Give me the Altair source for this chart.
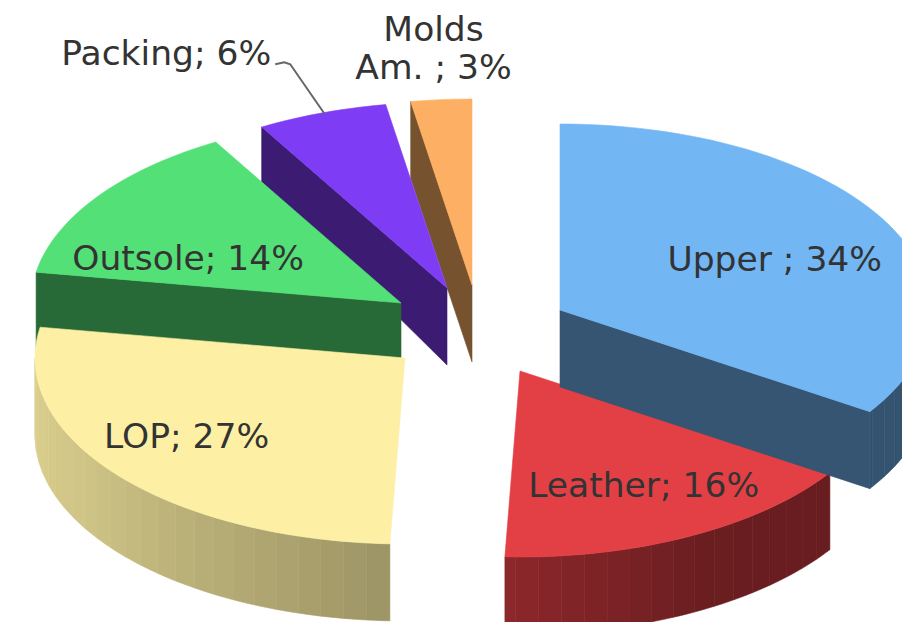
import math
import altair as alt

# Data
NAMES = ["Upper ", "Leather", "LOP", "Outsole", "Packing", "Molds\nAm. "]
SHARES = [34.2, 16.45, 27.0, 14.0, 5.7, 2.65]
COLORS = ["#72b6f4", "#e34046", "#fdf0a4", "#53e077", "#7e3cf4", "#fdb063"]

# Layout of the exploded, tilted pie (page pixels)
APEX = [(560, 310), (520, 371), (405, 358), (401, 303), (447, 288), (472, 285)]
LABEL_FRAC = [(0.66, 0.55), (0.73, 0.70), (0.76, 0.68), (0.70, 0.41), (2.24, 1.33), (1.25, 1.37)]
FAR_DEPTH = [55, 55, 55, 55, 55, 77]
RX, RY = 370, 186
MARGIN = 8
CUT_SHADE = 0.47
WALL_STOPS = [(90, 0.45), (150, 0.47), (182, 0.62), (240, 0.82), (270, 0.87)]


def wall_shade(deg):
    for (t0, f0), (t1, f1) in zip(WALL_STOPS, WALL_STOPS[1:]):
        if deg <= t1:
            return f0 + (f1 - f0) * (deg - t0) / (t1 - t0)
    return WALL_STOPS[-1][1]


def shade(hex_color, f):
    r, g, b = (int(hex_color[i:i + 2], 16) for i in (1, 3, 5))
    return "#%02x%02x%02x" % (int(r * f), int(g * f), int(b * f))


def rim(c, deg):
    t = math.radians(deg)
    return (c[0] + RX * math.sin(t) - MARGIN, c[1] - RY * math.cos(t) - MARGIN)


def down(p, far):
    return (p[0], p[1] + min(77, far + max(0, (p[1] + MARGIN - 128)) * 0.142))


def poly(points, fill):
    ring = [list(p) for p in points] + [list(points[0])]
    return {
        "type": "Feature",
        "properties": {"fill": fill},
        "geometry": {"type": "Polygon", "coordinates": [ring]},
    }


spans = []
acc = 0.0
for s in SHARES:
    spans.append((acc * 3.6, (acc + s) * 3.6))
    acc += s

features = []
for i in [5, 4, 3, 2, 1, 0]:
    a, b = spans[i]
    far = FAR_DEPTH[i]
    apex = (APEX[i][0] - MARGIN, APEX[i][1] - MARGIN)
    col = COLORS[i]
    # outer wall, in narrow shaded bands
    lo, hi = max(a, 90), min(b, 270)
    t = lo
    while t < hi:
        t2 = min(t + 3.6, hi)
        f = wall_shade((t + t2) / 2)
        top = [rim(APEX[i], t + k * (t2 - t) / 3) for k in range(4)]
        features.append(poly(top + [down(p, far) for p in reversed(top)], shade(col, f)))
        t = t2
    # cut faces that look toward the viewer
    if math.sin(math.radians(b)) > 0.1:
        r = rim(APEX[i], b)
        features.append(poly([apex, r, down(r, far), down(apex, far)], shade(col, CUT_SHADE)))
    if math.sin(math.radians(a)) < -0.1:
        r = rim(APEX[i], a)
        features.append(poly([apex, r, down(r, far), (apex[0], apex[1] + 77)], shade(col, CUT_SHADE)))
    # top surface
    n = max(3, int((b - a) / 2))
    arc = [rim(APEX[i], a + k * (b - a) / n) for k in range(n + 1)]
    features.append(poly([apex] + arc, col))

labels = []
for i, (nm, s) in enumerate(zip(NAMES, SHARES)):
    a, b = spans[i]
    m = math.radians((a + b) / 2)
    fx, fy = LABEL_FRAC[i]
    labels.append({
        "lon": APEX[i][0] + RX * math.sin(m) * fx - MARGIN,
        "lat": APEX[i][1] - RY * math.cos(m) * fy - MARGIN,
        "label": f"{nm}; {round(s)}%",
    })

# Leader line of the Packing label, from the label to the middle of its rim
pk = labels[4]
pk_mid = rim(APEX[4], sum(spans[4]) / 2)
leader = [{
    "type": "Feature",
    "properties": {},
    "geometry": {
        "type": "LineString",
        "coordinates": [
            [pk["lon"] + 109, pk["lat"] + 9],
            [pk["lon"] + 118, pk["lat"] + 7],
            [pk["lon"] + 124, pk["lat"] + 9],
            [pk_mid[0] + 3, pk_mid[1] + 1],
        ],
    },
}]

proj = alt.Projection(type="identity", scale=1, translate=[0, 0])

pie = (
    alt.Chart(alt.Data(values=features))
    .mark_geoshape(strokeWidth=0.6, clip=True)
    .encode(
        fill=alt.Fill("properties.fill:N", scale=None),
        stroke=alt.Stroke("properties.fill:N", scale=None),
    )
    .project(**proj.to_dict())
)

line = (
    alt.Chart(alt.Data(values=leader))
    .mark_geoshape(filled=False, stroke="#666666", strokeWidth=2)
    .project(**proj.to_dict())
)

text = (
    alt.Chart(alt.Data(values=labels))
    .mark_text(font="DejaVu Sans", fontSize=34.5, color="#333333", align="center",
               baseline="middle", lineBreak="\n", lineHeight=38)
    .encode(longitude="lon:Q", latitude="lat:Q", text="label:N")
    .project(**proj.to_dict())
)

chart = (
    alt.layer(pie, line, text)
    .properties(width=894, height=614, padding=0, background="white",
                autosize=alt.AutoSizeParams(type="none"))
    .configure_view(stroke=None)
)

chart.save("out.html", embed_options={"renderer": "svg", "actions": False})
